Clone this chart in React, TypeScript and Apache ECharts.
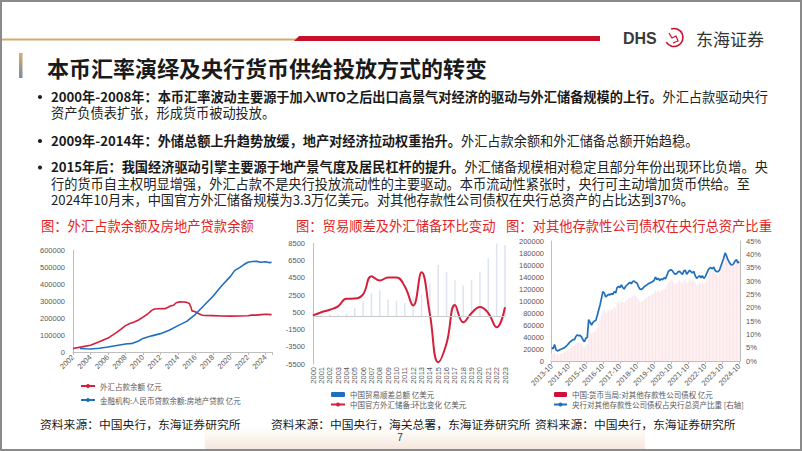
import React, { useEffect, useRef } from 'react';
import * as echarts from 'echarts';

// ---------- Chart 1: 外汇占款 / 房地产贷款 (亿元) ----------
const fxYears = [2002.0, 2003.0, 2004.0, 2005.0, 2006.0, 2007.0, 2007.5, 2008.0, 2008.5, 2009.0, 2009.5, 2010.0, 2010.5, 2011.0, 2011.3, 2011.8, 2012.5, 2012.8, 2013.2, 2013.5, 2013.8, 2014.2, 2014.7, 2015.0, 2015.3, 2015.5, 2015.6, 2015.9, 2016.3, 2016.7, 2017.0, 2018.0, 2019.0, 2020.0, 2021.0, 2022.0, 2022.4, 2023.0, 2023.5, 2024.0, 2024.7];
const fxValues = [21000, 30000, 40000, 60000, 82000, 115000, 135000, 155000, 168000, 176000, 188000, 205000, 222000, 245000, 253000, 254000, 255000, 262000, 272000, 275000, 290000, 295000, 294000, 292000, 285000, 262000, 242000, 238000, 228000, 218000, 215000, 214000, 212000, 211000, 212000, 213000, 217000, 217000, 220000, 222000, 220000];
const reYears = [2002.8, 2003.5, 2004.0, 2005.0, 2006.0, 2007.0, 2008.0, 2008.8, 2009.5, 2010.0, 2011.0, 2012.0, 2013.0, 2014.0, 2015.0, 2016.0, 2017.0, 2018.0, 2019.0, 2020.0, 2020.5, 2021.0, 2021.5, 2022.0, 2022.5, 2023.0, 2023.5, 2024.0, 2024.4, 2024.7];
const reValues = [21000, 19000, 18000, 22000, 29000, 38000, 47000, 51000, 65000, 80000, 95000, 108000, 128000, 155000, 180000, 222000, 275000, 328000, 390000, 445000, 480000, 495000, 513000, 528000, 532000, 533000, 528000, 531000, 526000, 527000];
const c1Names = ['外汇占款余额 亿元', '金融机构:人民币贷款余额:房地产贷款 亿元'];

// ---------- Chart 2: 贸易顺差 / 外汇储备环比 (亿美元) ----------
const tradeYears = ['2000', '2001', '2002', '2003', '2004', '2005', '2006', '2007', '2008', '2009', '2010', '2011', '2012', '2013', '2014', '2015', '2016', '2017', '2018', '2019', '2020', '2021', '2022', '2023'];
const tradeSurplus = [241, 225, 304, 255, 321, 1020, 1775, 2700, 3050, 1980, 1850, 1580, 2350, 2590, 3850, 6000, 5200, 4300, 3600, 4300, 5260, 6800, 8700, 8300];
const reserveChange = [150, 520, 800, 1200, 2080, 2100, 2600, 4700, 4200, 4550, 4550, 3500, 1300, 5150, 300, -5300, -3100, 1350, -650, 420, 1120, 420, -1230, 1100];
const c2Names = ['中国贸易顺差总额 亿美元', '中国官方外汇储备:环比变化 亿美元'];

// ---------- Chart 3: 对其他存款性公司债权 (亿元) / 占比 (%) ----------
const claimsValues = [
  13000, 12000, 15000,
  11000, 10500, 11000, 12000, 12500, 13500, 14500, 16000, 17500, 20000, 22000, 24000,
  25000, 25500, 29000, 31000, 30000, 30500, 29000, 26000, 23000, 27000, 28000, 50000,
  47000, 44000, 47000, 49000, 50000, 55000, 62000, 68000, 76000, 84000, 83000, 80000,
  82000, 84000, 84000, 86000, 86000, 90000, 88000, 95000, 98000, 97000, 100000, 98000,
  97000, 100000, 102000, 104000, 106000, 105000, 108000, 110000, 108000, 107000, 103000, 100000,
  98000, 100000, 102000, 104000, 106000, 108000, 108000, 110000, 111000, 113000, 118000, 115000,
  118000, 114000, 118000, 117000, 121000, 120000, 125000, 131000, 134000, 135000, 134000, 131000,
  128000, 130000, 133000, 134000, 132000, 130000, 135000, 136000, 130000, 133000, 137000, 135000,
  133000, 136000, 130000, 126000, 128000, 131000, 128000, 132000, 128000, 130000, 136000, 142000,
  148000, 150000, 148000, 152000, 147000, 145000, 143000, 148000, 156000, 164000, 171000, 178000,
  174000, 168000, 164000, 160000, 159000, 161000, 166000, 168000, 162000, 165000,
];
const ratioValues = [
  5.0, 4.6, 6.2,
  4.2, 3.8, 4.0, 4.3, 4.5, 4.8, 5.0, 5.5, 6.0, 6.6, 7.2, 7.6,
  8.0, 8.0, 9.2, 9.8, 9.5, 9.6, 9.0, 8.0, 7.2, 8.5, 8.8, 15.5,
  14.5, 13.5, 14.5, 15.0, 15.2, 17.0, 19.0, 21.0, 23.5, 26.0, 25.5, 24.0,
  24.5, 25.0, 24.8, 25.2, 25.0, 26.0, 25.5, 27.5, 28.0, 27.5, 28.5, 27.5,
  27.0, 28.0, 28.5, 29.0, 29.5, 29.0, 29.8, 30.0, 29.5, 29.2, 28.0, 27.0,
  26.8, 27.2, 27.8, 28.2, 28.5, 29.0, 29.2, 29.5, 29.8, 30.2, 31.5, 30.5,
  31.0, 30.2, 30.8, 30.5, 31.2, 30.8, 32.0, 33.5, 34.0, 34.2, 33.8, 33.0,
  32.5, 32.8, 33.5, 33.6, 33.0, 32.5, 33.8, 34.0, 32.5, 33.3, 34.0, 33.5,
  33.0, 33.6, 32.0, 31.0, 31.5, 32.0, 31.2, 32.0, 31.0, 31.5, 32.8, 34.0,
  34.8, 35.0, 34.6, 35.2, 34.0, 33.5, 33.5, 34.0, 35.5, 37.0, 38.5, 40.5,
  39.5, 38.0, 37.0, 36.2, 36.0, 36.5, 37.5, 38.0, 36.8, 37.2,
];
const c3Names = ['中国:货币当局:对其他存款性公司债权 亿元', '央行对其他存款性公司债权占央行总资产比重 [右轴]'];
const monthLabels: string[] = [];
for (let y = 2013, m = 10; ; m++) {
  if (m > 12) { m = 1; y++; }
  if (y > 2024 || (y === 2024 && m > 10)) break;
  monthLabels.push(`${y}-${m < 10 ? '0' + m : m}`);
}

// ---------- Slide texts ----------
const slideTitle = '本币汇率演绎及央行货币供给投放方式的转变';
// each paragraph: first line = bold lead + normal tail, following lines normal
const paragraphs: { y: number; lines: { b: string; n: string }[] }[] = [
  {
    y: 96, lines: [
      { b: '2000年-2008年：本币汇率波动主要源于加入WTO之后出口高景气对经济的驱动与外汇储备规模的上行。', n: '外汇占款驱动央行' },
      { b: '', n: '资产负债表扩张，形成货币被动投放。' },
    ],
  },
  {
    y: 140, lines: [
      { b: '2009年-2014年：外储总额上升趋势放缓，地产对经济拉动权重抬升。', n: '外汇占款余额和外汇储备总额开始趋稳。' },
    ],
  },
  {
    y: 166.5, lines: [
      { b: '2015年后：我国经济驱动引擎主要源于地产景气度及居民杠杆的提升。', n: '外汇储备规模相对稳定且部分年份出现环比负增。央' },
      { b: '', n: '行的货币自主权明显增强，外汇占款不是央行投放流动性的主要驱动。本币流动性紧张时，央行可主动增加货币供给。至' },
      { b: '', n: '2024年10月末，中国官方外汇储备规模为3.3万亿美元。对其他存款性公司债权在央行总资产的占比达到37%。' },
    ],
  },
];
const chartTitles = ['图：外汇占款余额及房地产贷款余额', '图：贸易顺差及外汇储备环比变动', '图：对其他存款性公司债权在央行总资产比重'];
const sources = ['资料来源：中国央行，东海证券研究所', '资料来源：中国央行，海关总署，东海证券研究所', '资料来源：中国央行，东海证券研究所'];

const CJK = '"Noto Sans CJK SC", "Noto Sans", sans-serif';
const LAT = '"Liberation Sans", Arial, sans-serif';
const RED = '#d41f3c';
const BLUE = '#1f6fbd';
const AXIS = '#bfbfbf';
const LBL = '#595959';
const LINE_H = 16.7;

const lbl = (extra: any = {}) => ({ fontSize: 7.5, color: LBL, fontFamily: LAT, ...extra });
const plain = (v: number) => String(v);

export default function App() {
  const ref = useRef<HTMLDivElement>(null);
  useEffect(() => {
    const chart = echarts.init(ref.current!, null, { renderer: 'svg' });

    const graphic: any[] = [
      { type: 'rect', shape: { x: 1, y: 1, width: 800, height: 449 }, style: { fill: 'none', stroke: '#8a8a8a', lineWidth: 2 }, silent: true },
      { type: 'rect', shape: { x: 205, y: 426, width: 440, height: 23 }, style: { fill: new echarts.graphic.LinearGradient(0, 0, 0, 1, [{ offset: 0, color: 'rgba(246,234,224,0)' }, { offset: 1, color: 'rgba(244,228,216,0.9)' }]) }, silent: true },
      // header stripes
      { type: 'rect', shape: { x: 2, y: 38.5, width: 296, height: 2 }, style: { fill: '#d6aa70' } },
      { type: 'polygon', shape: { points: [[299, 36], [600, 36], [600, 41], [294, 41]] }, style: { fill: '#c8122c' } },
      // logo
      { type: 'text', x: 623, y: 38, style: { text: 'DHS', fontSize: 16, fontWeight: 'bold', fontFamily: LAT, fill: '#3a3a3a', verticalAlign: 'middle' } },
      { type: 'arc', shape: { cx: 674, cy: 37.5, r: 9, startAngle: -1.9, endAngle: 2.6, clockwise: true }, style: { stroke: '#c8122c', lineWidth: 1.6, fill: 'none' } },
      { type: 'polyline', shape: { points: [[669, 33], [672, 38], [676, 36], [678, 41], [673, 43]] }, style: { stroke: '#c8122c', lineWidth: 1.2, fill: 'none' } },
      { type: 'text', x: 696, y: 38.5, style: { text: '东海证券', fontSize: 17, fontFamily: CJK, fill: '#333', verticalAlign: 'middle' } },
      // title
      { type: 'rect', shape: { x: 19, y: 53, width: 3.5, height: 25 }, style: { fill: new echarts.graphic.LinearGradient(0, 0, 0, 1, [{ offset: 0, color: '#d9ac6e' }, { offset: 1, color: '#7b8aa3' }]) } },
      { type: 'text', x: 47, y: 67, style: { text: slideTitle, fontSize: 22, fontWeight: 'bold', fontFamily: CJK, fill: '#1a1a1a', verticalAlign: 'middle' } },
    ];
    paragraphs.forEach((p) => {
      graphic.push({ type: 'circle', shape: { cx: 40, cy: p.y + 1, r: 2.1 }, style: { fill: '#222' } });
      const txt = p.lines.map((l) => (l.b ? `{b|${l.b}}` : '') + (l.n ? `{n|${l.n}}` : '')).join('\n');
      graphic.push({
        type: 'text', x: 51, y: p.y - LINE_H / 2,
        style: {
          text: txt, verticalAlign: 'top', fontFamily: CJK, fontSize: 13.2, fill: '#1a1a1a', lineHeight: LINE_H,
          rich: {
            b: { fontSize: 13.2, lineHeight: LINE_H, fontWeight: 'bold', fontFamily: CJK, fill: '#1a1a1a' },
            n: { fontSize: 13.2, lineHeight: LINE_H, fontWeight: 'normal', fontFamily: CJK, fill: '#222' },
          },
        },
      });
    });
    [41, 296, 506].forEach((x, i) => {
      graphic.push({ type: 'text', x, y: 225, style: { text: chartTitles[i], fontSize: 13.3, fontFamily: CJK, fill: '#e2231f', verticalAlign: 'middle' } });
    });
    [40, 271, 535].forEach((x, i) => {
      graphic.push({ type: 'text', x, y: 423, style: { text: sources[i], fontSize: 11.8, fontFamily: CJK, fill: '#1a1a1a', verticalAlign: 'middle' } });
    });
    graphic.push({ type: 'text', x: 400, y: 437, style: { text: '7', fontSize: 10, fontFamily: LAT, fill: '#333', align: 'center', verticalAlign: 'middle' } });

    const legendBase = {
      orient: 'vertical', padding: 0, itemHeight: 5, itemGap: 1,
      textStyle: { fontSize: 7.5, color: LBL, fontFamily: CJK, lineHeight: 9 },
      selectedMode: false,
    };

    chart.setOption({
      animation: false,
      backgroundColor: '#ffffff',
      textStyle: { fontFamily: LAT },
      grid: [
        { left: 73, top: 250, width: 199, height: 102 },
        { left: 313, top: 243.5, width: 192, height: 120.5 },
        { left: 551, top: 241, width: 189, height: 120 },
      ],
      xAxis: [
        {
          type: 'value', gridIndex: 0, min: 2002, max: 2024.75, interval: 2,
          axisLine: { show: true, lineStyle: { color: AXIS } },
          axisTick: { show: true, length: 3, lineStyle: { color: AXIS } },
          splitLine: { show: false },
          axisLabel: lbl({ rotate: 45, margin: 4, formatter: (v: number) => (Number.isInteger(v) && v % 2 === 0 ? String(v) : '') }),
        },
        {
          type: 'category', gridIndex: 1, data: tradeYears, boundaryGap: false,
          axisLine: { show: false, onZero: false }, axisTick: { show: false },
          axisLabel: lbl({ rotate: 90, margin: 3, interval: 0 }),
        },
        {
          type: 'category', gridIndex: 2, data: monthLabels, boundaryGap: true,
          axisLine: { show: true, lineStyle: { color: AXIS } },
          axisTick: { show: true, interval: 11, alignWithLabel: true, length: 3, lineStyle: { color: AXIS } },
          axisLabel: lbl({ rotate: 45, margin: 4, interval: 11 }),
        },
      ],
      yAxis: [
        {
          type: 'value', gridIndex: 0, min: 0, max: 600000, interval: 100000,
          axisLine: { show: true, lineStyle: { color: AXIS } }, axisTick: { show: false }, splitLine: { show: false },
          axisLabel: lbl({ margin: 8, formatter: plain }),
        },
        {
          type: 'value', gridIndex: 1, min: -5500, max: 8500, interval: 2000,
          axisLine: { show: true, onZero: false, lineStyle: { color: AXIS } }, axisTick: { show: false }, splitLine: { show: false },
          axisLabel: lbl({ margin: 8, formatter: plain }),
        },
        {
          type: 'value', gridIndex: 2, min: 0, max: 200000, interval: 20000,
          axisLine: { show: true, lineStyle: { color: AXIS } }, axisTick: { show: false }, splitLine: { show: false },
          axisLabel: lbl({ margin: 7, formatter: plain }),
        },
        {
          type: 'value', gridIndex: 2, position: 'right', min: 0, max: 45, interval: 5,
          axisLine: { show: true, lineStyle: { color: AXIS } }, axisTick: { show: false }, splitLine: { show: false },
          axisLabel: lbl({ margin: 6, formatter: '{value}%' }),
        },
      ],
      legend: [
        { ...legendBase, left: 80, top: 381.5, itemWidth: 14, itemGap: 5, data: c1Names },
        {
          ...legendBase, left: 330, top: 390, itemWidth: 14,
          data: [{ name: c2Names[0], itemStyle: { color: BLUE } }, { name: c2Names[1] }],
        },
        {
          ...legendBase, left: 553, top: 390, itemWidth: 13,
          data: [{ name: c3Names[0], itemStyle: { color: '#d0103a' } }, { name: c3Names[1] }],
        },
      ],
      series: [
        {
          name: c1Names[0], type: 'line', xAxisIndex: 0, yAxisIndex: 0, symbol: 'none',
          lineStyle: { color: RED, width: 1.6 }, itemStyle: { color: RED },
          data: fxYears.map((x, i) => [x, fxValues[i]]),
        },
        {
          name: c1Names[1], type: 'line', xAxisIndex: 0, yAxisIndex: 0, symbol: 'none',
          lineStyle: { color: BLUE, width: 1.6 }, itemStyle: { color: BLUE },
          data: reYears.map((x, i) => [x, reValues[i]]),
        },
        {
          name: c2Names[0], type: 'bar', xAxisIndex: 1, yAxisIndex: 1, barWidth: 1.5,
          itemStyle: { color: '#dce5ef' }, data: tradeSurplus,
          markLine: {
            silent: true, symbol: 'none', label: { show: false },
            lineStyle: { color: '#c8c8c8', width: 1, type: 'solid' }, data: [{ yAxis: 0 }],
          },
        },
        {
          name: c2Names[1], type: 'line', xAxisIndex: 1, yAxisIndex: 1, symbol: 'none', smooth: 0.45,
          lineStyle: { color: RED, width: 2 }, itemStyle: { color: RED }, data: reserveChange,
        },
        {
          name: c3Names[0], type: 'bar', xAxisIndex: 2, yAxisIndex: 2, barWidth: 1,
          itemStyle: { color: '#fbe4e7' }, data: claimsValues,
        },
        {
          name: c3Names[1], type: 'line', xAxisIndex: 2, yAxisIndex: 3, symbol: 'none',
          lineStyle: { color: BLUE, width: 1.7 }, itemStyle: { color: BLUE }, data: ratioValues,
        },
      ],
      graphic,
    });
    return () => chart.dispose();
  }, []);
  return <div ref={ref} style={{ position: 'fixed', left: 0, top: 0, width: 802, height: 451, background: '#fff' }} />;
}
